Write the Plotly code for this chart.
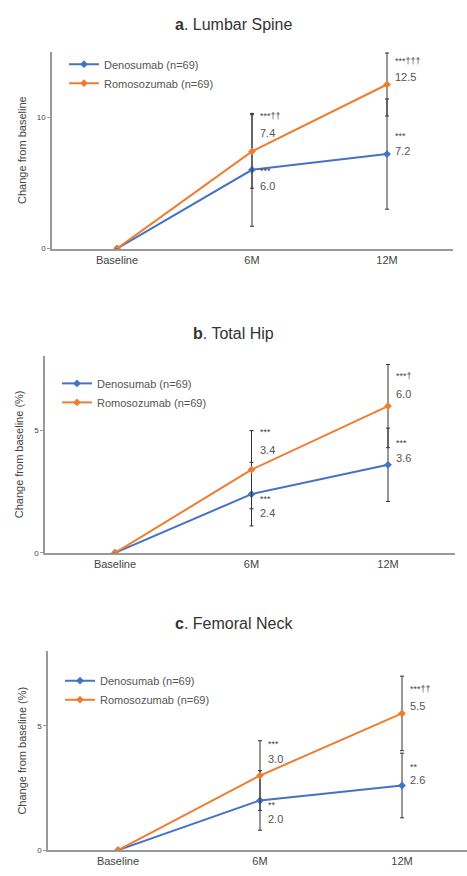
import plotly.graph_objects as go

categories = ["Baseline", "6M", "12M"]
series_names = ["Denosumab (n=69)", "Romosozumab (n=69)"]

# Panel a: Lumbar Spine
a_deno = [0, 6.0, 7.2]
a_deno_err = [0, 4.3, 4.2]
a_romo = [0, 7.4, 12.5]
a_romo_err = [0, 2.8, 2.4]
a_deno_sig = ["", "***", "***"]
a_romo_sig = ["", "***††", "***†††"]

# Panel b: Total Hip
b_deno = [0, 2.4, 3.6]
b_deno_err = [0, 1.3, 1.5]
b_romo = [0, 3.4, 6.0]
b_romo_err = [0, 1.6, 1.7]
b_deno_sig = ["", "***", "***"]
b_romo_sig = ["", "***", "***†"]

# Panel c: Femoral Neck
c_deno = [0, 2.0, 2.6]
c_deno_err = [0, 1.2, 1.3]
c_romo = [0, 3.0, 5.5]
c_romo_err = [0, 1.4, 1.5]
c_deno_sig = ["", "**", "**"]
c_romo_sig = ["", "***", "***††"]

titles = ["<b>a</b>. Lumbar Spine", "<b>b</b>. Total Hip", "<b>c</b>. Femoral Neck"]
ytitles = ["Change from baseline", "Change from baseline (%)", "Change from baseline (%)"]
ytickvals = [[0, 10], [0, 5], [0, 5]]

W, H = 467, 876
BLUE = "#4472C4"
ORANGE = "#ED7D31"
FONT = "Liberation Sans, Arial, sans-serif"

# layout geometry (pixels)
panels = [
    dict(x0=52, x1=453, ytop=52, ybot=250, xb=117, xunit=135, yr=[0, 15],
         title_y=25, leg=(64, 50),
         offs_deno=[(0, 0), (1, 16), (-18, -3)], offs_romo=[(0, 0), (-35, -18), (-24, -8)]),
    dict(x0=45, x1=455, ytop=358, ybot=556, xb=115, xunit=136.5, yr=[0, 8.05],
         title_y=335, leg=(57, 371),
         offs_deno=[(0, 0), (5, 19), (-22, -7)], offs_romo=[(0, 0), (-38, -20), (-30, -12)]),
    dict(x0=48, x1=467, ytop=655, ybot=855, xb=118, xunit=142, yr=[0, 8.0],
         title_y=627, leg=(60, 670),
         offs_deno=[(0, 0), (5, 19), (-18, -5)], offs_romo=[(0, 0), (-32, -17), (-24, -7)]),
]

data = [
    (a_deno, a_deno_err, a_romo, a_romo_err, a_deno_sig, a_romo_sig),
    (b_deno, b_deno_err, b_romo, b_romo_err, b_deno_sig, b_romo_sig),
    (c_deno, c_deno_err, c_romo, c_romo_err, c_deno_sig, c_romo_sig),
]

xidx = list(range(len(categories)))
fig = go.Figure()
annotations = []
layout = dict(width=W, height=H, margin=dict(l=0, r=0, t=0, b=0),
              paper_bgcolor="white", plot_bgcolor="white",
              font=dict(family=FONT, color="#444"))

for i, (p, d) in enumerate(zip(panels, data)):
    deno, deno_err, romo, romo_err, deno_sig, romo_sig = d
    n = "" if i == 0 else str(i + 1)
    xa, ya = "x" + n, "y" + n
    leg = "legend" + n
    fig.add_trace(go.Scatter(
        x=xidx, y=deno, name=series_names[0], mode="lines+markers",
        line=dict(color=BLUE, width=2), marker=dict(symbol="diamond", size=6, color=BLUE),
        error_y=dict(type="data", array=deno_err, color="#333", thickness=1, width=2),
        xaxis=xa, yaxis=ya, legend=leg))
    fig.add_trace(go.Scatter(
        x=xidx, y=romo, name=series_names[1], mode="lines+markers",
        line=dict(color=ORANGE, width=2), marker=dict(symbol="diamond", size=6, color=ORANGE),
        error_y=dict(type="data", array=romo_err, color="#333", thickness=1, width=2),
        xaxis=xa, yaxis=ya, legend=leg))

    xr = [(p["x0"] - p["xb"]) / p["xunit"], (p["x1"] - p["xb"]) / p["xunit"]]
    layout["xaxis" + n] = dict(
        domain=[p["x0"] / W, min(p["x1"] / W, 1)], range=xr, anchor=ya,
        tickvals=xidx, ticktext=categories, showgrid=False, zeroline=False,
        showline=True, linecolor="#999", linewidth=1.5, ticks="",
        tickfont=dict(size=11, color="#444"))
    layout["yaxis" + n] = dict(
        domain=[1 - p["ybot"] / H, 1 - p["ytop"] / H], range=p["yr"], anchor=xa,
        tickvals=ytickvals[i], showgrid=False, zeroline=False,
        showline=True, linecolor="#999", linewidth=1.5, ticks="outside", ticklen=3,
        tickcolor="#999", tickfont=dict(size=8, color="#444"),
        title=dict(text=ytitles[i], font=dict(size=11, color="#444"), standoff=8))
    layout[leg] = dict(x=p["leg"][0] / W, y=1 - p["leg"][1] / H, xanchor="left", yanchor="top",
                       bgcolor="rgba(0,0,0,0)", font=dict(size=11, color="#555"),
                       itemwidth=30, tracegroupgap=0)

    annotations.append(dict(text=titles[i], x=0.5, y=1 - p["title_y"] / H, xref="paper", yref="paper",
                            showarrow=False, font=dict(size=16, color="#333"), xanchor="center", yanchor="middle"))

    for vals, sigs, offs in ((deno, deno_sig, p["offs_deno"]), (romo, romo_sig, p["offs_romo"])):
        for k in range(1, len(categories)):
            so, vo = offs[k]
            annotations.append(dict(text=sigs[k], x=xidx[k], y=vals[k], xref=xa, yref=ya,
                                    showarrow=False, xanchor="left", yanchor="middle",
                                    xshift=6, yshift=-so, font=dict(size=9, color="#444")))
            annotations.append(dict(text=f"{vals[k]:.1f}", x=xidx[k], y=vals[k], xref=xa, yref=ya,
                                    showarrow=False, xanchor="left", yanchor="middle",
                                    xshift=6, yshift=-vo, font=dict(size=11, color="#555")))

layout["annotations"] = annotations
fig.update_layout(**layout)
fig.write_html("out.html", config={"displayModeBar": False},
               post_script="document.body.style.margin='0';")
